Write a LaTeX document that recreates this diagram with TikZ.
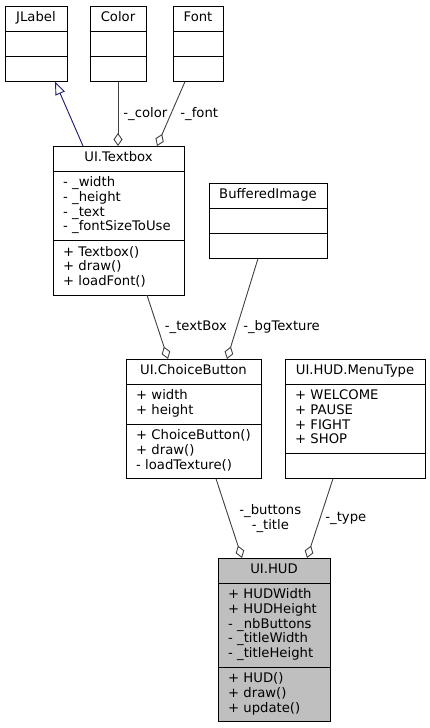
\documentclass[tikz,border=0pt]{standalone}
\usepackage{fontspec}
\setmainfont{DejaVu Sans}
\usepackage{tikz}
\usetikzlibrary{positioning,arrows.meta}
\definecolor{UMLEdge}{HTML}{404040}
\definecolor{UMLInherit}{HTML}{191970}
\definecolor{UMLFocus}{HTML}{BFBFBF}
\tikzset{umltitle/.style={draw=black, line width=1pt, outer sep=0pt, fill=white, align=center, minimum width=#1, inner xsep=0pt, inner ysep=5.25pt, font=\fontsize{13.2}{14.7}\selectfont, execute at begin node=\strut, execute at end node=\strut}, umlpart/.style={draw=black, line width=1pt, outer sep=0pt, fill=white, align=left, text width=#1-20pt, inner xsep=10pt, inner ysep=5.25pt, font=\fontsize{13.2}{14.7}\selectfont, execute at begin node=\strut, execute at end node=\strut}, umlfocus/.style={fill=UMLFocus}, umlagg/.style={-{Diamond[open, length=13pt, width=9pt]}, line width=.9pt, draw=UMLEdge}, umlinherit/.style={-{Triangle[open, length=13pt, width=10pt]}, line width=.9pt, draw=UMLInherit}, umllabel/.style={inner sep=1pt, align=center, font=\fontsize{13.2}{14.7}\selectfont}}

\begin{document}
\begin{tikzpicture}[x=1pt, y=-1pt]
\useasboundingbox (0,0) rectangle (430,728);
\node[umltitle=62pt, anchor=north] (jlabel) at (36,6) {JLabel};
\node[umlpart=62pt, below=0pt of jlabel] (jlabelattr) {};
\node[umlpart=62pt, below=0pt of jlabelattr] (jlabelops) {};
\node[umltitle=56pt, anchor=north] (color) at (118,6) {Color};
\node[umlpart=56pt, below=0pt of color] (colorattr) {};
\node[umlpart=56pt, below=0pt of colorattr] (colorops) {};
\node[umltitle=50pt, anchor=north] (font) at (198,6) {Font};
\node[umlpart=50pt, below=0pt of font] (fontattr) {};
\node[umlpart=50pt, below=0pt of fontattr] (fontops) {};
\node[umltitle=131pt, anchor=north] (textbox) at (118.5,146) {UI.Textbox};
\node[umlpart=131pt, below=0pt of textbox] (textboxattr) {- \_width\\- \_height\\- \_text\\- \_fontSizeToUse};
\node[umlpart=131pt, below=0pt of textboxattr] (textboxops) {+ Textbox()\\+ draw()\\+ loadFont()};
\node[umltitle=118pt, anchor=north] (bufimage) at (268,183) {BufferedImage};
\node[umlpart=118pt, below=0pt of bufimage] (bufimageattr) {};
\node[umlpart=118pt, below=0pt of bufimageattr] (bufimageops) {};
\node[umltitle=135pt, anchor=north] (choice) at (193.5,359) {UI.ChoiceButton};
\node[umlpart=135pt, below=0pt of choice] (choiceattr) {+ width\\+ height};
\node[umlpart=135pt, below=0pt of choiceattr] (choiceops) {+ ChoiceButton()\\+ draw()\\- loadTexture()};
\node[umltitle=140pt, anchor=north] (menutype) at (355,359) {UI.HUD.MenuType};
\node[umlpart=140pt, below=0pt of menutype] (menutypeattr) {+ WELCOME\\+ PAUSE\\+ FIGHT\\+ SHOP};
\node[umlpart=140pt, below=0pt of menutypeattr] (menutypeops) {};
\node[umltitle=112pt, umlfocus, anchor=north] (hud) at (274,558) {UI.HUD};
\node[umlpart=112pt, umlfocus, below=0pt of hud] (hudattr) {+ HUDWidth\\+ HUDHeight\\- \_nbButtons\\- \_titleWidth\\- \_titleHeight};
\node[umlpart=112pt, umlfocus, below=0pt of hudattr] (hudops) {+ HUD()\\+ draw()\\+ update()};
\draw[umlinherit] ([xshift=-35.5pt]textbox.north) -- ([xshift=19pt]jlabelops.south);
\draw[umlagg] (colorops.south) -- node[umllabel, right=4pt] (colorlbl) {-\_color} ([xshift=-0.5pt]textbox.north);
\draw[umlagg] ([xshift=-13pt]fontops.south) -- node[umllabel, right=8pt] (fontlbl) {-\_font} ([xshift=38.5pt]textbox.north);
\draw[umlagg] ([xshift=28.5pt]textboxops.south) -- node[umllabel, right=6pt] (textboxlbl) {-\_textBox} ([xshift=-25.5pt]choice.north);
\draw[umlagg] ([xshift=-10pt]bufimageops.south) -- node[umllabel, pos=.68, right=5pt] (bufimagelbl) {-\_bgTexture} ([xshift=33.5pt]choice.north);
\draw[umlagg] ([xshift=22.5pt]choiceops.south) -- node[umllabel, right=9pt] (choicelbl) {-\_buttons\\-\_title} ([xshift=-32pt]hud.north);
\draw[umlagg] ([xshift=-22pt]menutypeops.south) -- node[umllabel, right=4pt] (menutypelbl) {-\_type} ([xshift=33pt]hud.north);
\end{tikzpicture}
\end{document}
